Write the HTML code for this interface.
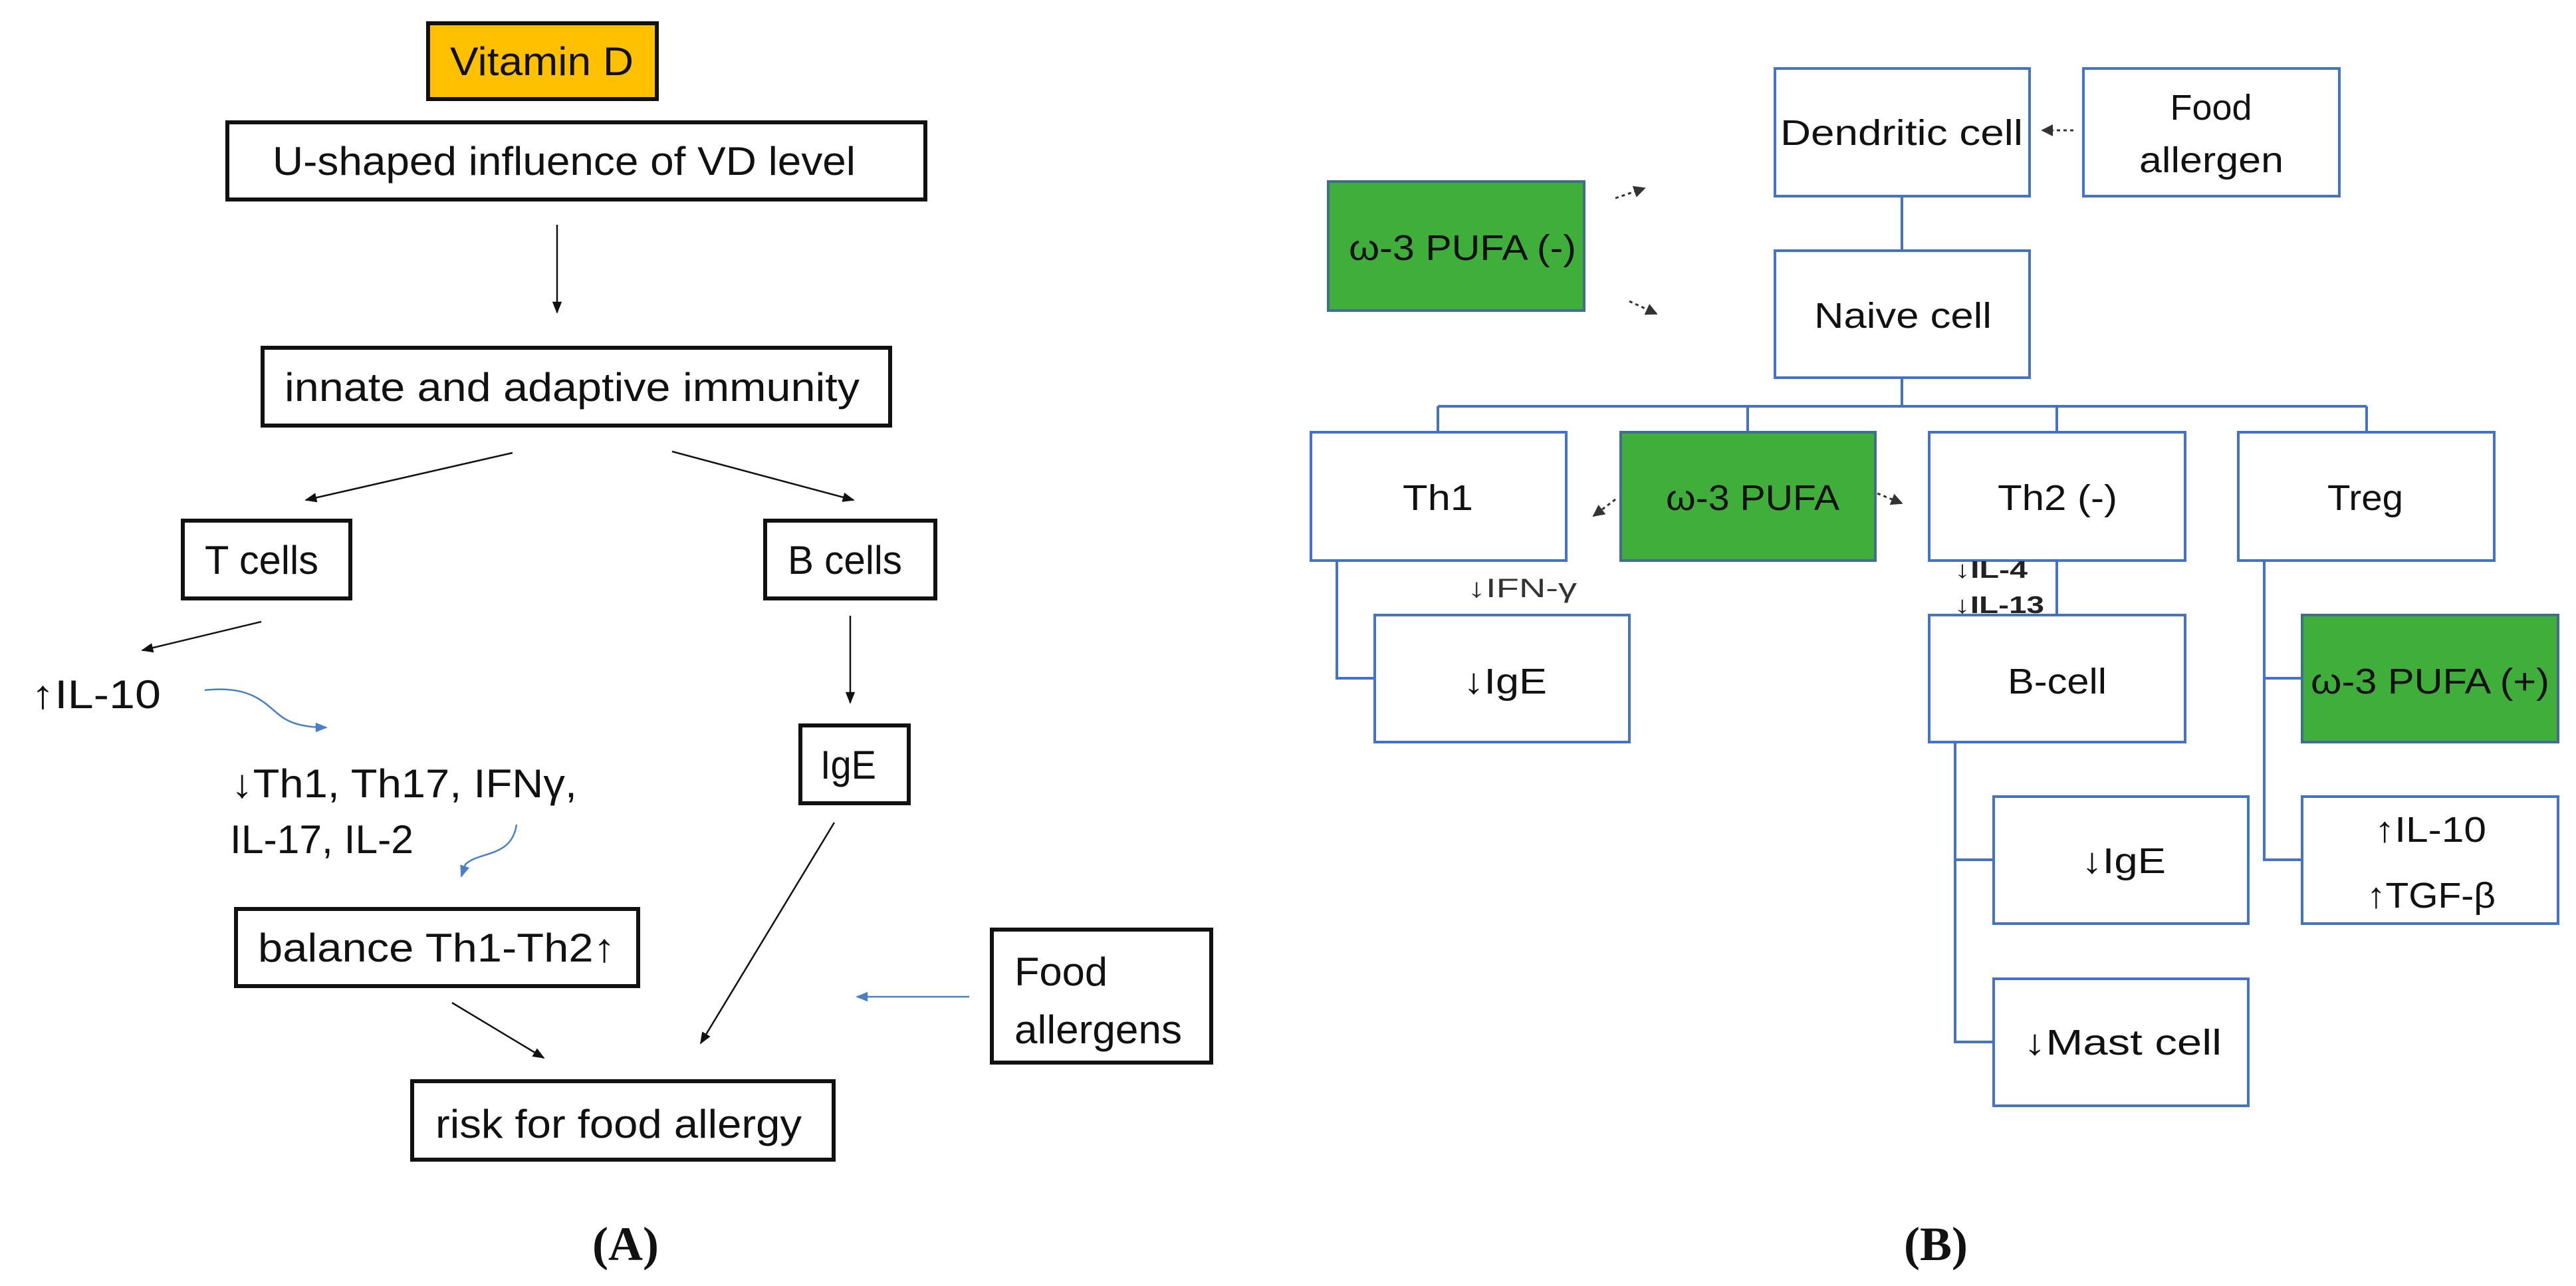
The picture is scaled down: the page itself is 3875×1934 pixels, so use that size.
<!DOCTYPE html>
<html><head><meta charset="utf-8"><style>
html,body{margin:0;padding:0;background:#fff;}
svg{display:block;}
text{font-family:"Liberation Sans","DejaVu Sans",sans-serif;fill:#111;}
.a{font-size:60px;}
.b{font-size:54px;}
.lbl{font-family:"Liberation Serif",serif;font-weight:bold;font-size:72px;}
</style></head><body>
<svg width="3875" height="1934" viewBox="0 0 3875 1934" xmlns="http://www.w3.org/2000/svg">
<defs>
<marker id="ak" markerWidth="22" markerHeight="18" refX="9" refY="5" orient="auto" markerUnits="userSpaceOnUse" viewBox="0 0 10 10"><path d="M0,1 L10,5 L0,9 z" fill="#111"/></marker>
<marker id="ab" markerWidth="22" markerHeight="18" refX="9" refY="5" orient="auto" markerUnits="userSpaceOnUse" viewBox="0 0 10 10"><path d="M0,1 L10,5 L0,9 z" fill="#4a7fc8"/></marker>
<marker id="ad" markerWidth="18" markerHeight="18" refX="9" refY="5" orient="auto" markerUnits="userSpaceOnUse" viewBox="0 0 10 10"><path d="M0,0 L10,5 L0,10 z" fill="#333"/></marker>
</defs>

<!-- Panel A -->
<g stroke="#111" stroke-width="6" fill="none">
<rect x="644" y="35" width="344" height="114" fill="#FFC000"/>
<rect x="342" y="184" width="1050" height="116"/>
<rect x="395" y="523" width="944" height="117"/>
<rect x="275" y="783" width="252" height="117"/>
<rect x="1151" y="783" width="256" height="117"/>
<rect x="1204" y="1091" width="163" height="117"/>
<rect x="355" y="1367" width="605" height="116"/>
<rect x="1492" y="1398" width="330" height="200"/>
<rect x="620" y="1626" width="634" height="118"/>
</g>
<g stroke="#111" stroke-width="2.5" fill="none" marker-end="url(#ak)">
<line x1="838" y1="338" x2="838" y2="470"/>
<line x1="771" y1="681" x2="460" y2="752"/>
<line x1="1011" y1="679" x2="1284" y2="752"/>
<line x1="393" y1="935" x2="214" y2="978"/>
<line x1="1279" y1="926" x2="1279" y2="1057"/>
<line x1="680" y1="1508" x2="818" y2="1591"/>
<line x1="1255" y1="1237" x2="1054" y2="1569"/>
</g>
<g stroke="#4a7fc8" stroke-width="2.5" fill="none" marker-end="url(#ab)">
<path d="M308,1038 C380,1030 400,1060 420,1075 C440,1092 470,1094 491,1094"/>
<path d="M777,1240 C770,1290 720,1280 700,1300 L694,1318"/>
<line x1="1458" y1="1499" x2="1289" y2="1499"/>
</g>
<text class="a" x="677" y="113" textLength="276" lengthAdjust="spacingAndGlyphs">Vitamin D</text>
<text class="a" x="410" y="263" textLength="877" lengthAdjust="spacingAndGlyphs">U-shaped influence of VD level</text>
<text class="a" x="428" y="603" textLength="865" lengthAdjust="spacingAndGlyphs">innate and adaptive immunity</text>
<text class="a" x="308" y="863" textLength="171" lengthAdjust="spacingAndGlyphs">T cells</text>
<text class="a" x="1185" y="863" textLength="172" lengthAdjust="spacingAndGlyphs">B cells</text>
<text class="a" x="47" y="1065" textLength="195" lengthAdjust="spacingAndGlyphs">↑IL-10</text>
<text class="a" x="348" y="1199" textLength="520" lengthAdjust="spacingAndGlyphs">↓Th1, Th17, IFNγ,</text>
<text class="a" x="346" y="1283" textLength="276" lengthAdjust="spacingAndGlyphs">IL-17, IL-2</text>
<text class="a" x="1234" y="1171" textLength="84" lengthAdjust="spacingAndGlyphs">IgE</text>
<text class="a" x="388" y="1446" textLength="538" lengthAdjust="spacingAndGlyphs">balance Th1-Th2↑</text>
<text class="a" x="1526" y="1482" textLength="140" lengthAdjust="spacingAndGlyphs">Food</text>
<text class="a" x="1526" y="1569" textLength="252" lengthAdjust="spacingAndGlyphs">allergens</text>
<text class="a" x="655" y="1711" textLength="551" lengthAdjust="spacingAndGlyphs">risk for food allergy</text>
<text class="lbl" x="941" y="1895" text-anchor="middle">(A)</text>

<!-- Panel B connectors -->
<g stroke="#4472C4" stroke-width="4" fill="none">
<line x1="2861" y1="295" x2="2861" y2="377"/>
<line x1="2861" y1="568" x2="2861" y2="611"/>
<line x1="2163" y1="611" x2="3560" y2="611"/>
<line x1="2163" y1="611" x2="2163" y2="650"/>
<line x1="2629" y1="611" x2="2629" y2="650"/>
<line x1="3094" y1="611" x2="3094" y2="650"/>
<line x1="3560" y1="611" x2="3560" y2="650"/>
<polyline points="2011,843 2011,1020 2068,1020"/>
<line x1="3094" y1="843" x2="3094" y2="925"/>
<polyline points="2941,1116 2941,1567 2999,1567"/>
<line x1="2941" y1="1293" x2="2999" y2="1293"/>
<polyline points="3406,843 3406,1293 3463,1293"/>
<line x1="3406" y1="1020" x2="3463" y2="1020"/>
</g>
<!-- Panel B boxes -->
<g stroke="#4472C4" stroke-width="4" fill="#fff">
<rect x="2670" y="103" width="383" height="192"/>
<rect x="3134" y="103" width="385" height="192"/>
<rect x="1998" y="273" width="385" height="194" fill="#3FAE3A" stroke="#3f6f8a"/>
<rect x="2670" y="377" width="383" height="191"/>
<rect x="1972" y="650" width="384" height="193"/>
<rect x="2438" y="650" width="383" height="193" fill="#3FAE3A" stroke="#3f6f8a"/>
<rect x="2902" y="650" width="385" height="193"/>
<rect x="3367" y="650" width="385" height="193"/>
<rect x="2068" y="925" width="383" height="191"/>
<rect x="2902" y="925" width="385" height="191"/>
<rect x="3463" y="925" width="385" height="191" fill="#3FAE3A" stroke="#3f6f8a"/>
<rect x="2999" y="1198" width="383" height="191"/>
<rect x="3463" y="1198" width="385" height="191"/>
<rect x="2999" y="1472" width="383" height="191"/>
</g>
<g stroke="#333" stroke-width="3" stroke-dasharray="5,5" fill="none" marker-end="url(#ad)">
<line x1="3119" y1="196" x2="3072" y2="196"/>
<line x1="2430" y1="298" x2="2474" y2="283"/>
<line x1="2451" y1="453" x2="2492" y2="472"/>
<line x1="2430" y1="751" x2="2397" y2="776"/>
<line x1="2824" y1="742" x2="2861" y2="757"/>
</g>
<text class="b" x="2678" y="218" textLength="365" lengthAdjust="spacingAndGlyphs">Dendritic cell</text>
<text class="b" x="3326" y="180" text-anchor="middle">Food</text>
<text class="b" x="3218" y="259" textLength="217" lengthAdjust="spacingAndGlyphs">allergen</text>
<text class="b" x="2029" y="391" textLength="342" lengthAdjust="spacingAndGlyphs">ω-3 PUFA (-)</text>
<text class="b" x="2729" y="493" textLength="267" lengthAdjust="spacingAndGlyphs">Naive cell</text>
<text class="b" x="2110" y="767" textLength="106" lengthAdjust="spacingAndGlyphs">Th1</text>
<text class="b" x="2506" y="767" textLength="261" lengthAdjust="spacingAndGlyphs">ω-3 PUFA</text>
<text class="b" x="3005" y="767" textLength="180" lengthAdjust="spacingAndGlyphs">Th2 (-)</text>
<text class="b" x="3501" y="767" textLength="114" lengthAdjust="spacingAndGlyphs">Treg</text>
<text x="2207" y="898" style="font-size:40px;fill:#333" textLength="165" lengthAdjust="spacingAndGlyphs">↓IFN-γ</text>
<text x="2940" y="869" style="font-size:36px;font-weight:bold;fill:#222" textLength="110" lengthAdjust="spacingAndGlyphs">↓IL-4</text>
<text x="2940" y="922" style="font-size:36px;font-weight:bold;fill:#222" textLength="135" lengthAdjust="spacingAndGlyphs">↓IL-13</text>
<text class="b" x="2201" y="1043" textLength="126" lengthAdjust="spacingAndGlyphs">↓IgE</text>
<text class="b" x="3020" y="1043" textLength="149" lengthAdjust="spacingAndGlyphs">B-cell</text>
<text class="b" x="3476" y="1043" textLength="359" lengthAdjust="spacingAndGlyphs">ω-3 PUFA (+)</text>
<text class="b" x="3131" y="1313" textLength="127" lengthAdjust="spacingAndGlyphs">↓IgE</text>
<text class="b" x="3572" y="1266" textLength="168" lengthAdjust="spacingAndGlyphs">↑IL-10</text>
<text class="b" x="3560" y="1365" textLength="194" lengthAdjust="spacingAndGlyphs">↑TGF-β</text>
<text class="b" x="3044" y="1586" textLength="298" lengthAdjust="spacingAndGlyphs">↓Mast cell</text>
<text class="lbl" x="2912" y="1895" text-anchor="middle">(B)</text>
</svg>
</body></html>
